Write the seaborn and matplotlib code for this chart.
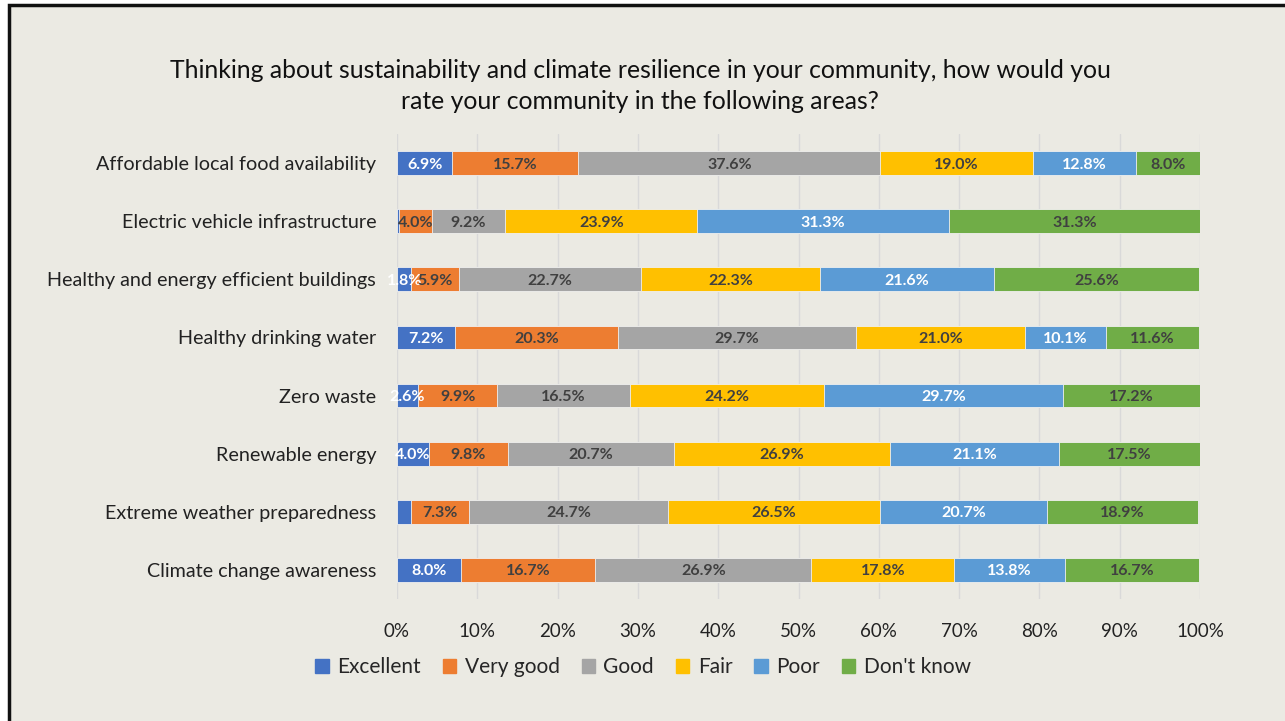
import pandas as pd
import numpy as np
import matplotlib.pyplot as plt
import seaborn as sns
from matplotlib.patches import Rectangle

categories = ['Affordable local food availability', 'Electric vehicle infrastructure',
              'Healthy and energy efficient buildings', 'Healthy drinking water',
              'Zero waste', 'Renewable energy', 'Extreme weather preparedness',
              'Climate change awareness']
series = ['Excellent', 'Very good', 'Good', 'Fair', 'Poor', "Don't know"]

excellent = [6.9, 0.3, 1.8, 7.2, 2.6, 4.0, 1.7, 8.0]
very_good = [15.7, 4.0, 5.9, 20.3, 9.9, 9.8, 7.3, 16.7]
good = [37.6, 9.2, 22.7, 29.7, 16.5, 20.7, 24.7, 26.9]
fair = [19.0, 23.9, 22.3, 21.0, 24.2, 26.9, 26.5, 17.8]
poor = [12.8, 31.3, 21.6, 10.1, 29.7, 21.1, 20.7, 13.8]
dont_know = [8.0, 31.3, 25.6, 11.6, 17.2, 17.5, 18.9, 16.7]

colors = ['#4472C4', '#ED7D31', '#A5A5A5', '#FFC000', '#5B9BD5', '#70AD47']
label_colors = ['white', '#404040', '#404040', '#404040', 'white', '#404040']
bg = '#EBEAE3'

df = pd.DataFrame({'category': categories, 'Excellent': excellent, 'Very good': very_good,
                   'Good': good, 'Fair': fair, 'Poor': poor, "Don't know": dont_know})
cum = df[series].cumsum(axis=1)

sns.set_theme(style='white')
plt.rcParams['font.family'] = ['Lato', 'DejaVu Sans']

fig = plt.figure(figsize=(12.85, 7.21), dpi=100)
fig.patch.set_facecolor('white')
fig.patches.append(Rectangle((9 / 1285, -0.05), 1.1, 1 - 5 / 721 + 0.05,
                             transform=fig.transFigure, facecolor=bg,
                             edgecolor='#111111', linewidth=2.5, zorder=-1))

ax = fig.add_axes([397 / 1285, 1 - 599 / 721, 803 / 1285, 465 / 721])
ax.set_facecolor(bg)

# overlapping cumulative bars give the stacked look
for i in range(len(series) - 1, -1, -1):
    s = series[i]
    sns.barplot(x=cum[s], y=df['category'], color=colors[i], orient='h', width=0.41,
                edgecolor='#F0F0F0', linewidth=0.6, ax=ax, saturation=1, zorder=3)

for i, s in enumerate(series):
    left = cum[s] - df[s]
    for j, v in enumerate(df[s]):
        if v < 1.8:
            continue
        ax.text(left[j] + v / 2, j, f'{v:.1f}%', ha='center', va='center_baseline',
                fontsize=11.5, fontweight='bold', color=label_colors[i], zorder=5)

ax.set_xlim(0, 100)
ax.set_ylim(7.5, -0.5)
ax.set_xticks(np.arange(0, 101, 10))
ax.set_xticklabels([f'{t}%' for t in range(0, 101, 10)], fontsize=13.5, color='#222222')
ax.tick_params(axis='x', pad=17, length=0)
ax.tick_params(axis='y', pad=15, length=0, labelsize=14.2, labelcolor='#222222')
ax.grid(axis='x', color='#D9D9D9', linewidth=1, zorder=0)
ax.set_axisbelow(True)
ax.set_xlabel('')
ax.set_ylabel('')
sns.despine(ax=ax, left=True, bottom=True)

handles = [Rectangle((0, 0), 1, 1, color=c) for c in colors]
fig.legend(handles, series, loc='center', bbox_to_anchor=(643 / 1285, 1 - 667 / 721),
           ncol=6, frameon=False, fontsize=15, handlelength=0.65, handleheight=0.65,
           handletextpad=0.4, columnspacing=1.05)

fig.text(640 / 1285, 1 - 86 / 721,
         'Thinking about sustainability and climate resilience in your community, how would you\n'
         'rate your community in the following areas?',
         ha='center', va='center', fontsize=17.8, color='#111111', linespacing=1.45)

fig.savefig('out.png', dpi=100, facecolor=fig.get_facecolor())
